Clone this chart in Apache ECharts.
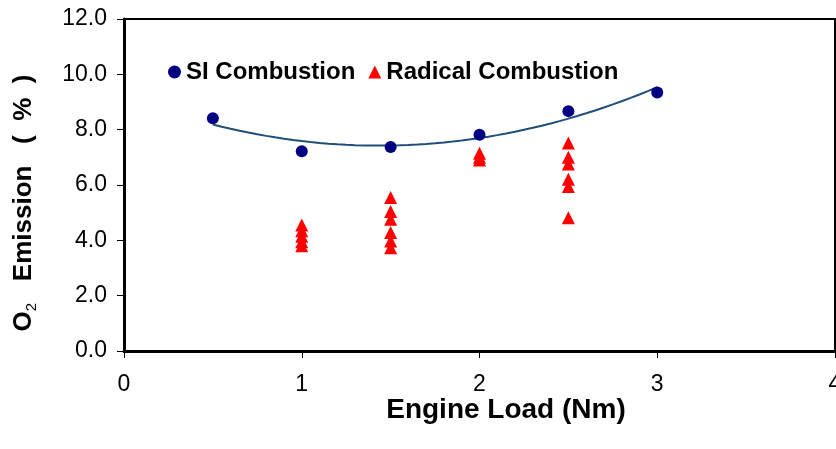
<!DOCTYPE html>
<html>
<head>
<meta charset="utf-8">
<script src="https://cdn.jsdelivr.net/npm/echarts@6/dist/echarts.min.js"></script>
<style>
html,body{margin:0;padding:0;background:#fff;}
#c{width:836px;height:449px;}
</style>
</head>
<body>
<div id="c"></div>
<script>
// ---- data ----
const siLoad = [0.5, 1.0, 1.5, 2.0, 2.5, 3.0];
const siO2   = [8.41, 7.22, 7.37, 7.82, 8.67, 9.34];

const radLoad = [1.0, 1.0, 1.0, 1.0, 1.0,
                 1.5, 1.5, 1.5, 1.5, 1.5, 1.5,
                 2.0, 2.0, 2.0,
                 2.5, 2.5, 2.5, 2.5, 2.5, 2.5];
const radO2   = [4.55, 4.35, 4.15, 3.95, 3.80,
                 5.55, 5.04, 4.76, 4.28, 3.98, 3.73,
                 7.15, 7.00, 6.90,
                 7.52, 7.00, 6.76, 6.21, 5.95, 4.82];

const xTicks = [0, 1, 2, 3, 4];
const yTicks = [0, 2, 4, 6, 8, 10, 12];

// ---- 2nd-order polynomial trendline (least squares fit of SI data) ----
function polyFit2(xs, ys) {
  let n = xs.length, sx=0, sx2=0, sx3=0, sx4=0, sy=0, sxy=0, sx2y=0;
  for (let i = 0; i < n; i++) {
    const x = xs[i], y = ys[i];
    sx += x; sx2 += x*x; sx3 += x*x*x; sx4 += x*x*x*x;
    sy += y; sxy += x*y; sx2y += x*x*y;
  }
  const M = [[n, sx, sx2, sy], [sx, sx2, sx3, sxy], [sx2, sx3, sx4, sx2y]];
  for (let i = 0; i < 3; i++) {
    for (let k = i + 1; k < 3; k++) {
      const f = M[k][i] / M[i][i];
      for (let j = i; j < 4; j++) M[k][j] -= f * M[i][j];
    }
  }
  const r = [0, 0, 0];
  for (let i = 2; i >= 0; i--) {
    let s = M[i][3];
    for (let j = i + 1; j < 3; j++) s -= M[i][j] * r[j];
    r[i] = s / M[i][i];
  }
  return r; // a + b x + c x^2
}
const coef = polyFit2(siLoad, siO2);
const trend = [];
const x0 = siLoad[0], x1 = siLoad[siLoad.length - 1];
for (let k = 0; k <= 50; k++) {
  const x = x0 + (x1 - x0) * k / 50;
  trend.push([x, coef[0] + coef[1] * x + coef[2] * x * x]);
}

const siData = siLoad.map((x, i) => [x, siO2[i]]);
const radData = radLoad.map((x, i) => [x, radO2[i]]);

const FONT = '"Liberation Sans", Arial, sans-serif';

const chart = echarts.init(document.getElementById('c'), null, {renderer: 'canvas'});
chart.setOption({
  backgroundColor: '#ffffff',
  animation: false,
  grid: {left: 124, right: 1, top: 19, bottom: 98, show: true,
         borderColor: '#000', borderWidth: 2, backgroundColor: 'transparent',
         containLabel: false, outerBoundsMode: 'none'},
  legend: {
    data: [
      {name: 'SI Combustion', icon: 'circle'},
      {name: 'Radical Combustion', icon: 'triangle'}
    ],
    left: 163, top: 55,
    itemWidth: 13, itemHeight: 13, itemGap: 13,
    textStyle: {fontFamily: FONT, fontSize: 24, fontWeight: 'bold', color: '#000'}
  },
  xAxis: {
    type: 'value', min: xTicks[0], max: xTicks[xTicks.length - 1], interval: 1,
    axisLine: {show: true, onZero: false, lineStyle: {color: '#000', width: 3}},
    axisTick: {show: true, inside: false, length: 7, lineStyle: {color: '#000', width: 1}},
    splitLine: {show: false},
    axisLabel: {margin: 22, fontFamily: FONT, fontSize: 23, color: '#000',
                formatter: v => String(v), showMaxLabel: true, showMinLabel: true},
    name: 'Engine Load (Nm)', nameLocation: 'middle', nameGap: 45, nameMoveOverlap: false,
    nameTextStyle: {fontFamily: FONT, fontSize: 28, fontWeight: 'bold', color: '#000',
                    padding: [0, 0, 0, 53]}
  },
  yAxis: {
    type: 'value', min: yTicks[0], max: yTicks[yTicks.length - 1], interval: 2,
    axisLine: {show: true, onZero: false, lineStyle: {color: '#000', width: 3}},
    axisTick: {show: true, inside: false, length: 7, lineStyle: {color: '#000', width: 1}},
    splitLine: {show: false},
    axisLabel: {margin: 17, fontFamily: FONT, fontSize: 23, color: '#000',
                formatter: v => v.toFixed(1)}
  },
  graphic: [{
    type: 'text',
    x: 24, y: 203,
    rotation: Math.PI / 2,
    style: {
      text: '{a|O}{s|2}{a|   Emission   (  %  )}',
      align: 'center', verticalAlign: 'middle',
      rich: {
        a: {fontFamily: FONT, fontSize: 26, fontWeight: 'bold', fill: '#000', lineHeight: 30},
        s: {fontFamily: FONT, fontSize: 15, fill: '#000', lineHeight: 14, verticalAlign: 'bottom'}
      }
    }
  }],
  series: [
    {
      name: 'Trend', type: 'line', data: trend, showSymbol: false, symbol: 'none',
      smooth: false, lineStyle: {color: '#1F4E79', width: 2}, z: 2, silent: true
    },
    {
      name: 'SI Combustion', type: 'scatter', data: siData, symbol: 'circle', symbolSize: 12,
      itemStyle: {color: '#000080', opacity: 1}, z: 3
    },
    {
      name: 'Radical Combustion', type: 'scatter', data: radData, symbol: 'triangle',
      symbolSize: [13, 13], itemStyle: {color: '#FF0000', opacity: 1}, z: 3
    }
  ]
});
</script>
</body>
</html>
